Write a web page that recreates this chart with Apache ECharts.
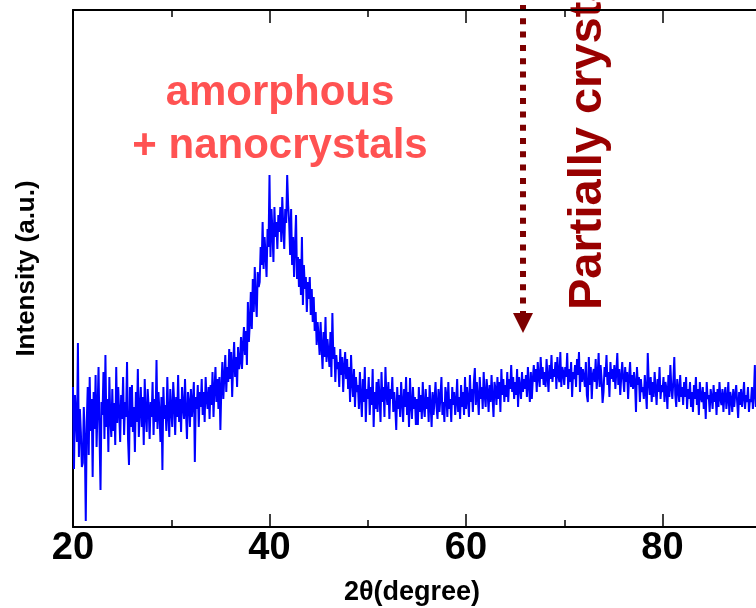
<!DOCTYPE html>
<html>
<head>
<meta charset="utf-8">
<script src="https://cdn.jsdelivr.net/npm/echarts@6/dist/echarts.min.js"></script>
<style>
html,body{margin:0;padding:0;background:#fff;}
#chart{width:756px;height:608px;}
</style>
</head>
<body>
<div id="chart"></div>
<script>
// 2θ sampling (degrees)
const thetaStart = 20.0;
const thetaStep = 0.1;
// Intensity (a.u.), one row per degree (20.0 ... 89.9)
const intensity = [
140, 58, 132, 110, 85, 184, 70, 118, 95, 60,
64, 120, 88, 6, 105, 140, 72, 150, 96, 128,
50, 135, 98, 152, 80, 118, 160, 92, 37, 125,
112, 155, 88, 172, 100, 128, 75, 150, 108, 90,
138, 96, 124, 82, 160, 104, 140, 115, 85, 132,
108, 150, 92, 125, 110, 165, 88, 62, 140, 100,
142, 95, 120, 75, 135, 105, 158, 90, 118, 140,
100, 130, 82, 148, 112, 95, 138, 120, 88, 125,
110, 145, 92, 128, 105, 167, 98, 135, 115, 85,
130, 57, 140, 108, 122, 96, 150, 112, 90, 138,
118, 100, 145, 125, 92, 130, 110, 152, 105, 128,
95, 140, 120, 108, 148, 115, 88, 135, 125, 100,
138, 110, 126, 145, 65, 130, 118, 142, 100, 135,
120, 148, 112, 135, 105, 150, 128, 118, 140, 108,
142, 122, 155, 110, 138, 160, 125, 148, 118, 150,
97, 140, 165, 128, 150, 172, 135, 160, 145, 178,
148, 175, 130, 162, 185, 150, 170, 140, 180, 158,
165, 190, 158, 182, 200, 172, 196, 162, 225, 185,
205, 235, 198, 248, 215, 260, 228, 210, 255, 240,
245, 280, 262, 305, 258, 290, 272, 250, 298, 280,
352, 270, 318, 296, 265, 320, 290, 305, 278, 312,
295, 320, 285, 330, 300, 278, 318, 304, 352, 322,
305, 272, 318, 262, 290, 250, 282, 312, 248, 270,
240, 268, 232, 290, 222, 262, 238, 250, 215, 245,
228, 250, 212, 238, 205, 230, 196, 215, 182, 205,
190, 172, 205, 180, 158, 195, 170, 210, 165, 188,
175, 160, 195, 150, 214, 168, 180, 145, 172, 158,
165, 140, 178, 152, 170, 135, 160, 175, 148, 168,
138, 160, 125, 172, 145, 130, 158, 120, 150, 135,
142, 118, 155, 130, 110, 148, 125, 160, 105, 138,
128, 150, 112, 140, 122, 158, 100, 135, 118, 145,
115, 148, 130, 105, 155, 125, 140, 110, 160, 132,
122, 145, 108, 138, 128, 150, 115, 135, 120, 97,
140, 118, 132, 110, 145, 125, 105, 138, 120, 150,
112, 135, 100, 149, 122, 108, 140, 118, 130, 102,
128, 102, 140, 115, 132, 108, 145, 120, 110, 138,
118, 130, 105, 142, 122, 100, 135, 112, 128, 145,
120, 108, 138, 115, 130, 150, 112, 125, 105, 140,
132, 110, 145, 118, 128, 105, 140, 122, 135, 112,
125, 148, 115, 130, 108, 142, 120, 135, 112, 150,
118, 140, 128, 110, 152, 125, 138, 115, 145, 159,
122, 145, 130, 112, 150, 128, 140, 118, 155, 132,
120, 148, 135, 115, 142, 125, 152, 130, 110, 145,
138, 122, 150, 128, 145, 115, 158, 132, 148, 125,
142, 130, 155, 125, 148, 138, 162, 135, 150, 128,
145, 132, 158, 120, 150, 140, 128, 155, 135, 148,
138, 152, 130, 160, 142, 125, 155, 128, 148, 162,
145, 158, 135, 165, 150, 140, 170, 148, 160, 142,
155, 140, 168, 150, 135, 162, 148, 172, 145, 158,
150, 165, 138, 170, 152, 145, 175, 140, 160, 155,
142, 160, 150, 174, 138, 158, 145, 165, 130, 155,
148, 162, 140, 168, 152, 175, 135, 160, 145, 158,
150, 140, 165, 132, 125, 170, 142, 160, 128, 152,
158, 145, 168, 138, 152, 174, 140, 162, 148, 124,
135, 160, 150, 172, 142, 155, 130, 165, 148, 158,
145, 162, 138, 155, 174, 142, 158, 132, 150, 165,
148, 135, 160, 145, 155, 128, 150, 165, 140, 152,
138, 155, 145, 115, 160, 142, 150, 125, 148, 135,
140, 128, 152, 135, 118, 174, 145, 132, 150, 125,
145, 130, 155, 138, 122, 148, 135, 160, 128, 142,
135, 150, 125, 145, 138, 118, 152, 130, 162, 140,
128, 145, 170, 132, 120, 148, 138, 125, 152, 130,
140, 122, 145, 130, 150, 118, 138, 128, 145, 120,
135, 115, 142, 128, 150, 122, 138, 112, 145, 130,
125, 140, 118, 135, 108, 145, 128, 132, 115, 138,
130, 118, 142, 125, 135, 112, 138, 120, 145, 128,
122, 138, 115, 132, 140, 118, 128, 145, 112, 135,
128, 115, 138, 120, 132, 142, 125, 109, 135, 122,
138, 120, 130, 145, 118, 132, 125, 140, 115, 128,
125, 140, 118, 132, 162, 120, 135, 128, 140, 125
];
const xTicks = [20, 40, 60, 80, 100];
const xTitle = '2θ(degree)';
const yTitle = 'Intensity (a.u.)';
const noteAmorphous = 'amorphous\n+ nanocrystals';
const notePartial = 'Partially crystalline';

const FONT = "'Liberation Sans', Arial, Helvetica, sans-serif";
const seriesData = intensity.map((v, i) => [+(thetaStart + thetaStep * i).toFixed(1), v]);

const chart = echarts.init(document.getElementById('chart'), null, {renderer: 'canvas'});

const xMin = xTicks[0], xMax = xTicks[xTicks.length - 1], xInt = xTicks[1] - xTicks[0];

function xAxisCfg(pos, labels) {
  return {
    type: 'value', position: pos, min: xMin, max: xMax, interval: xInt,
    axisLine: {show: true, onZero: false, lineStyle: {color: '#000', width: 2}},
    axisTick: {show: true, inside: true, length: 13, lineStyle: {color: '#000', width: 1.5}},
    minorTick: {show: true, splitNumber: 2, length: 7, lineStyle: {color: '#000', width: 1.5}},
    splitLine: {show: false}, minorSplitLine: {show: false},
    axisLabel: labels ? {show: true, color: '#000', fontSize: 38, fontWeight: 'bold', fontFamily: FONT,
      margin: 22, verticalAlign: 'middle'} : {show: false}
  };
}

chart.setOption({
  animation: false,
  backgroundColor: '#fff',
  grid: {left: 73, top: 10, width: 786, height: 517, containLabel: false, outerBoundsMode: 'none'},
  xAxis: [xAxisCfg('bottom', true), xAxisCfg('top', false)],
  yAxis: {
    type: 'value', min: 0, max: 517,
    axisLine: {show: true, lineStyle: {color: '#000', width: 2}},
    axisTick: {show: false}, axisLabel: {show: false}, splitLine: {show: false},
    name: yTitle, nameLocation: 'middle', nameGap: 33, nameRotate: 90,
    nameTextStyle: {color: '#000', fontSize: 26, fontWeight: 'bold', fontFamily: FONT}
  },
  series: [{
    type: 'line', xAxisIndex: 0, data: seriesData, showSymbol: false, symbol: 'none',
    lineStyle: {color: '#0000ff', width: 2}, clip: true, silent: true
  }],
  graphic: [
    {type: 'text', x: 412, y: 593, style: {text: xTitle,
      fill: '#000', font: "bold 27px " + FONT, textAlign: 'center', textVerticalAlign: 'middle'}},
    {type: 'text', x: 280, y: 119.5, style: {text: noteAmorphous, fill: '#ff5252',
      font: "bold 42px " + FONT, textAlign: 'center', textVerticalAlign: 'middle', lineHeight: 53}},
    {type: 'text', x: 588, y: 310, rotation: Math.PI / 2, style: {text: notePartial, fill: '#990000',
      font: "bold 47px " + FONT, textAlign: 'left', textVerticalAlign: 'middle'}},
    {type: 'line', shape: {x1: 523, y1: 5, x2: 523, y2: 315},
      style: {stroke: '#7d0000', lineWidth: 6, lineDash: [6, 7.3]}},
    {type: 'polygon', shape: {points: [[513, 313], [533, 313], [523, 333]]}, style: {fill: '#7d0000'}}
  ]
});
</script>
</body>
</html>
